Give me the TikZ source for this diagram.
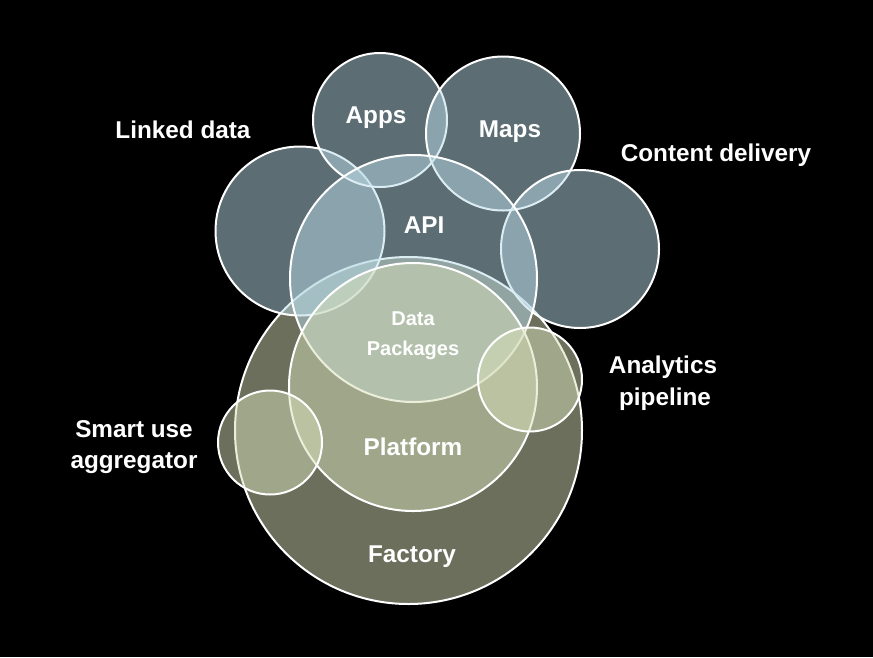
\documentclass[tikz,border=0pt]{standalone}
\usepackage{fontspec}
\setmainfont{Liberation Sans}
\definecolor{bluec}{RGB}{184,218,230}
\definecolor{greenc}{RGB}{214,222,184}
\tikzset{
  bubble/.style={draw=white, line width=2pt, fill opacity=0.5},
  bluebub/.style={bubble, fill=bluec},
  greenbub/.style={bubble, fill=greenc},
  lbl/.style={text=white, font=\fontsize{24.3}{29}\selectfont\bfseries, anchor=base, inner sep=0pt},
  slbl/.style={text=white, font=\fontsize{20}{24}\selectfont\bfseries, anchor=base, inner sep=0pt}
}
\begin{document}
\begin{tikzpicture}[x=1pt,y=-1pt]
\fill[black] (0,0) rectangle (873,657);
\useasboundingbox (0,0) rectangle (873,657);
% factory
\path[greenbub] (408.5,430.5) circle (173.5pt);
% blue circles
\path[bluebub] (300,231) circle (84.5pt);
\path[bluebub] (380,120) circle (67pt);
\path[bluebub] (503,133.5) circle (77pt);
\path[bluebub] (580,249) circle (79pt);
\path[bluebub] (413.5,278.5) circle (123.5pt);
% green circles on top
\path[greenbub] (413,387) circle (124pt);
\path[greenbub] (530,379.5) circle (52pt);
\path[greenbub] (270,442.5) circle (52pt);
% labels
\node[lbl] (apps) at (376,123) {Apps};
\node[lbl] (maps) at (510,137) {Maps};
\node[lbl] (api) at (424,233) {API};
\node[slbl] (data) at (413,325) {Data};
\node[slbl] (pack) at (413,355) {Packages};
\node[lbl] (plat) at (413,455) {Platform};
\node[lbl] (fact) at (412,562) {Factory};
\node[lbl] (cont) at (716,161) {Content delivery};
\node[lbl] (anal) at (663,373) {Analytics};
\node[lbl] (pipe) at (665,405) {pipeline};
\node[lbl] (link) at (183,138) {Linked data};
\node[lbl] (smart) at (134,437) {Smart use};
\node[lbl] (aggr) at (134,468) {aggregator};
\end{tikzpicture}
\end{document}
